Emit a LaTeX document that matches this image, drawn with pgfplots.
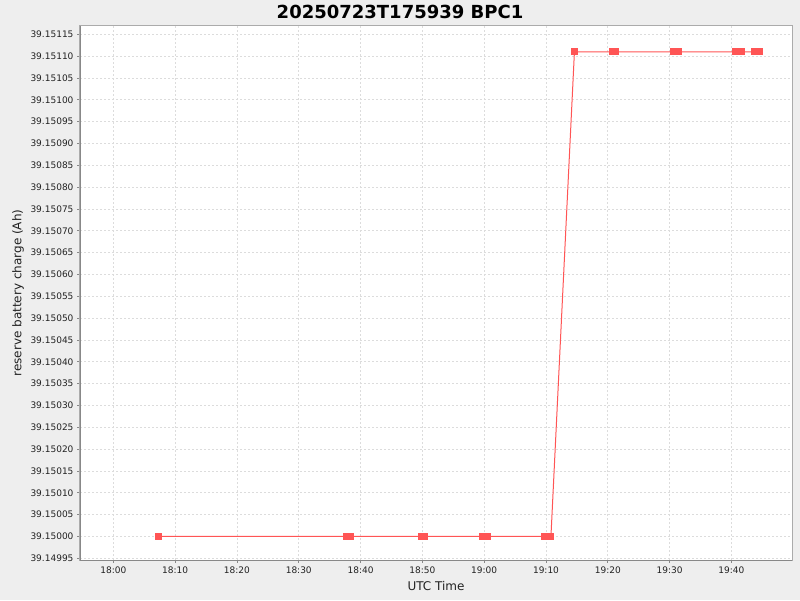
\documentclass[border=0pt]{standalone}
\usepackage{fontspec}
\setmainfont{DejaVu Sans}
\usepackage{pgfplots}
\pgfplotsset{compat=1.18}
\definecolor{bgc}{HTML}{EEEEEE}
\definecolor{series}{HTML}{FF5555}
\definecolor{gridc}{HTML}{DCDCDC}
\definecolor{framec}{HTML}{ABABAB}
\definecolor{axisc}{HTML}{888888}
\definecolor{labc}{HTML}{222222}

\begin{document}
\begin{tikzpicture}[x=1pt,y=1pt]
\fill[bgc] (0,0) rectangle (800,600);
\begin{axis}[
    at={(80pt,40pt)}, anchor=south west,
    width=712pt, height=534pt, scale only axis,
    xmin=-5.39, xmax=109.8,
    ymin=39.1499461, ymax=39.151169,
    axis background/.style={fill=white},
    axis line style={framec, line width=1pt},
    xtick={0,10,20,30,40,50,60,70,80,90,100},
    xticklabels={18:00,18:10,18:20,18:30,18:40,18:50,19:00,19:10,19:20,19:30,19:40},
    ytick={39.14995,39.15000,39.15005,39.15010,39.15015,39.15020,39.15025,39.15030,
           39.15035,39.15040,39.15045,39.15050,39.15055,39.15060,39.15065,39.15070,
           39.15075,39.15080,39.15085,39.15090,39.15095,39.15100,39.15105,39.15110,39.15115},
    yticklabels={39.14995,39.15000,39.15005,39.15010,39.15015,39.15020,39.15025,39.15030,
           39.15035,39.15040,39.15045,39.15050,39.15055,39.15060,39.15065,39.15070,
           39.15075,39.15080,39.15085,39.15090,39.15095,39.15100,39.15105,39.15110,39.15115},
    scaled y ticks=false,
    xtick pos=bottom, ytick pos=left,
    tick align=outside,
    major tick length=3pt,
    tick style={axisc, line width=0.8pt},
    tick label style={font=\fontsize{9}{10}\selectfont, text=labc},
    grid=major,
    major grid style={gridc, dash pattern=on 2pt off 2pt, line width=0.8pt},
]
\addplot[series, line width=1pt, mark=square*, mark size=3pt,
    mark options={draw=none, fill=series}] coordinates {
    (7.35,39.15000)
    (37.8,39.15000)
    (38.4,39.15000)
    (49.8,39.15000)
    (50.3,39.15000)
    (59.8,39.15000)
    (60.6,39.15000)
    (69.7,39.15000)
    (70.8,39.15000)
    (74.6,39.15111)
    (80.7,39.15111)
    (81.2,39.15111)
    (90.7,39.15111)
    (91.4,39.15111)
    (100.7,39.15111)
    (101.7,39.15111)
    (103.7,39.15111)
    (104.6,39.15111)
};
\draw[axisc, line width=1pt] (rel axis cs:0,1) -- (rel axis cs:0,0) -- (rel axis cs:1,0);
\end{axis}
\node[font=\bfseries\fontsize{18}{20}\selectfont, text=black] at (400,588) {20250723T175939 BPC1};
\node[font=\fontsize{12}{14}\selectfont, text=labc] at (436,14) {UTC Time};
\node[font=\fontsize{12}{14}\selectfont, text=labc, rotate=90] at (18,307) {reserve battery charge (Ah)};
\pgfresetboundingbox
\useasboundingbox (0,0) rectangle (800,600);
\end{tikzpicture}
\end{document}
